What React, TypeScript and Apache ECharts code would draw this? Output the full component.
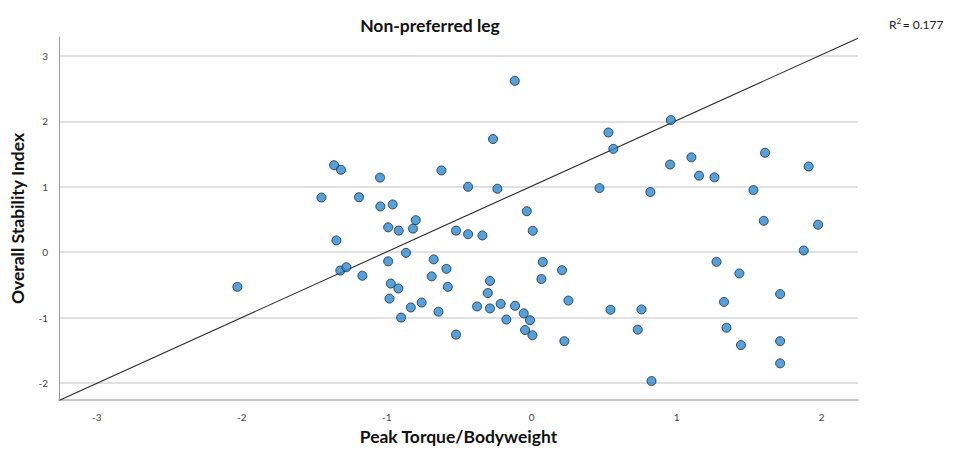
import React, { useEffect, useRef } from "react";
import * as echarts from "echarts";

const titleText = "Non-preferred leg";
const xAxisName = "Peak Torque/Bodyweight";
const yAxisName = "Overall Stability Index";
const rSquared = "0.177";

const xRange = [-3.26, 2.25];
const yRange = [-2.26, 3.29];

const fitIntercept = 1.01;
const fitSlope = 1.005;

const peakTorque = [
  -0.117, -0.267, -1.363, -1.315, -1.046, -0.623, -1.45, -1.191, -0.439, -0.237,
  -1.044, -0.959, -0.8, -0.99, -0.917, -0.819, -0.522, -0.439, -0.34, -0.034,
  0.007, -1.347, -2.03, -1.32, -1.278, -1.168, -0.99, -0.867, -0.972, -0.92,
  -0.981, -0.834, -0.759, -0.901, -0.676, -0.588, -0.69, -0.579, -0.643, -0.522,
  -0.288, -0.303, -0.377, -0.288, -0.214, -0.115, -0.175, -0.055, -0.012, -0.046,
  0.005, 0.076, 0.209, 0.067, 0.253, 0.225, 0.529, 0.563, 0.959, 0.467,
  0.818, 0.954, 1.101, 1.154, 1.26, 1.609, 1.91, 1.529, 1.6, 1.975,
  1.876, 0.543, 0.757, 0.731, 0.826, 1.274, 1.432, 1.326, 1.343, 1.443,
  1.713, 1.713, 1.713,
];

const stabilityIndex = [
  2.62, 1.73, 1.33, 1.26, 1.14, 1.25, 0.835, 0.84, 1.0, 0.97,
  0.7, 0.73, 0.49, 0.38, 0.33, 0.36, 0.33, 0.275, 0.255, 0.626,
  0.327, 0.18, -0.53, -0.28, -0.23, -0.36, -0.14, -0.01, -0.48, -0.555,
  -0.71, -0.845, -0.77, -1.0, -0.11, -0.255, -0.37, -0.53, -0.91, -1.26,
  -0.44, -0.625, -0.83, -0.86, -0.79, -0.82, -1.03, -0.935, -1.04, -1.19,
  -1.27, -0.15, -0.275, -0.41, -0.74, -1.36, 1.83, 1.58, 2.02, 0.98,
  0.92, 1.34, 1.45, 1.17, 1.145, 1.52, 1.31, 0.95, 0.48, 0.42,
  0.026, -0.88, -0.875, -1.185, -1.97, -0.147, -0.325, -0.76, -1.155, -1.42,
  -0.64, -1.36, -1.7,
];

export default function App() {
  const ref = useRef<HTMLDivElement>(null);

  useEffect(() => {
    document.body.style.margin = "0";
    if (!ref.current) return;
    const chart = echarts.init(ref.current, undefined, { renderer: "svg" });

    const points = peakTorque.map((x, i) => [x, stabilityIndex[i]]);
    const fitLine = xRange.map((x) => [x, fitIntercept + fitSlope * x]);

    const labelFormatter = (v: number) =>
      Math.abs(v - Math.round(v)) < 1e-6 ? String(Math.round(v)) : "";

    chart.setOption({
      animation: false,
      backgroundColor: "#ffffff",
      textStyle: { fontFamily: "Lato" },
      graphic: [
        {
          type: "text",
          x: 430,
          y: 25,
          style: {
            text: titleText,
            fontFamily: "Lato",
            fontWeight: "bold",
            fontSize: 17.5,
            fill: "#111",
            align: "center",
            verticalAlign: "middle",
          },
        },
        {
          type: "text",
          x: 889,
          y: 24,
          style: {
            text: "{a|R}{b|2}{a|\u2009= " + rSquared + "}",
            verticalAlign: "middle",
            rich: {
              a: { fontFamily: "Lato", fontSize: 12, fill: "#222", lineHeight: 15 },
              b: {
                fontFamily: "Lato",
                fontSize: 8,
                fill: "#222",
                lineHeight: 15,
                padding: [0, 0, 7, 0],
              },
            },
          },
        },
      ],
      grid: { left: 59, right: 95, top: 37, bottom: 51, containLabel: false },
      xAxis: {
        type: "value",
        min: xRange[0],
        max: xRange[1],
        name: xAxisName,
        nameLocation: "middle",
        nameGap: 27,
        nameTextStyle: { fontFamily: "Lato", fontWeight: "bold", fontSize: 17.5, color: "#111" },
        axisLine: { show: true, onZero: false, lineStyle: { color: "#c8c8c8", width: 2 } },
        axisTick: { show: false },
        axisLabel: {
          formatter: labelFormatter,
          showMinLabel: false,
          showMaxLabel: false,
          color: "#444",
          fontSize: 10,
          margin: 12,
        },
        splitLine: { show: false },
      },
      yAxis: {
        type: "value",
        min: yRange[0],
        max: yRange[1],
        name: yAxisName,
        nameLocation: "middle",
        nameGap: 33,
        nameTextStyle: { fontFamily: "Lato", fontWeight: "bold", fontSize: 17.5, color: "#111" },
        axisLine: { show: true, onZero: false, lineStyle: { color: "#999", width: 1 } },
        axisTick: { show: false },
        axisLabel: {
          formatter: labelFormatter,
          showMinLabel: false,
          showMaxLabel: false,
          color: "#444",
          fontSize: 10,
          margin: 11,
        },
        splitLine: {
          show: true,
          showMinLine: false,
          showMaxLine: false,
          lineStyle: { color: "#d6d6d6", width: 1.5 },
        },
      },
      series: [
        {
          type: "line",
          data: fitLine,
          symbol: "none",
          lineStyle: { color: "#2a2a2a", width: 1.1 },
          z: 2,
          silent: true,
        },
        {
          type: "scatter",
          data: points,
          symbol: "circle",
          symbolSize: 9,
          itemStyle: { color: "#2b8ad3", borderColor: "#16273a", borderWidth: 1 },
          z: 3,
        },
      ],
    });

    return () => chart.dispose();
  }, []);

  return <div ref={ref} style={{ width: 953, height: 451 }} />;
}
